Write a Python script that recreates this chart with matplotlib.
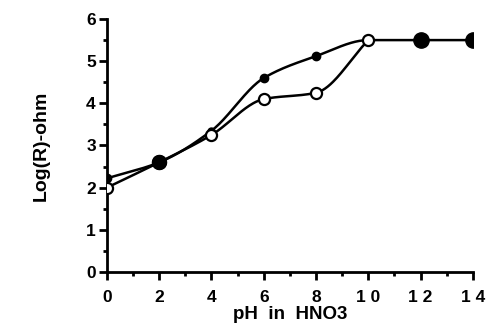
import numpy as np
import matplotlib
matplotlib.use("Agg")
import matplotlib.pyplot as plt
from matplotlib.ticker import MultipleLocator

plt.rcParams['font.family'] = ['Liberation Sans', 'DejaVu Sans']
plt.rcParams['font.weight'] = 'bold'

# pH values and log resistance for the two runs
ph_filled = [0, 2, 4, 6, 8, 10, 12, 14]
logr_filled = [2.22, 2.6, 3.35, 4.6, 5.12, 5.5, 5.5, 5.5]
ph_open = [0, 2, 4, 6, 8, 10]
logr_open = [2.0, 2.6, 3.25, 4.1, 4.25, 5.5]
xtick_labels = ["0", "2", "4", "6", "8", "1 0", "1 2", "1 4"]


def pchip(x, y, n=40):
    """Monotone cubic curve through the points, for a smooth trace."""
    x = np.asarray(x, float)
    y = np.asarray(y, float)
    h = np.diff(x)
    d = np.diff(y) / h
    m = np.zeros_like(y)
    for k in range(1, len(x) - 1):
        if d[k - 1] * d[k] > 0:
            w1 = 2 * h[k] + h[k - 1]
            w2 = h[k] + 2 * h[k - 1]
            m[k] = (w1 + w2) / (w1 / d[k - 1] + w2 / d[k])
    m[0] = d[0]
    m[-1] = d[-1] if d[-1] != 0 else 0
    xs, ys = [], []
    for k in range(len(x) - 1):
        t = np.linspace(0, 1, n, endpoint=False)
        h00 = 2 * t**3 - 3 * t**2 + 1
        h10 = t**3 - 2 * t**2 + t
        h01 = -2 * t**3 + 3 * t**2
        h11 = t**3 - t**2
        xs.append(x[k] + t * h[k])
        ys.append(h00 * y[k] + h10 * h[k] * m[k] + h01 * y[k + 1] + h11 * h[k] * m[k + 1])
    xs.append([x[-1]])
    ys.append([y[-1]])
    return np.concatenate(xs), np.concatenate(ys)


fig = plt.figure(figsize=(4.86, 3.28), dpi=100)
ax = fig.add_axes([0.220, 0.171, 0.753, 0.771])

fx, fy = pchip(ph_filled, logr_filled)
ox, oy = pchip(ph_open, logr_open)
ax.plot(fx, fy, color='black', lw=1.8, zorder=2)
ax.plot(ox, oy, color='black', lw=1.8, zorder=2)

# filled markers: small ones on the rising part, large ones on the plateau
sizes = [6, 10, 5, 6, 6, 0, 11, 11]
for x, y, s in zip(ph_filled, logr_filled, sizes):
    if s:
        ax.plot(x, y, 'o', color='black', ms=s, zorder=3)
ax.plot(ph_open, logr_open, 'o', mfc='white', mec='black', mew=1.6, ms=8, zorder=4)
ax.plot(2, 2.6, 'o', color='black', ms=10, zorder=5)

ax.set_xlim(0, 14)
ax.set_ylim(0, 6)
ax.xaxis.set_major_locator(MultipleLocator(2))
ax.xaxis.set_minor_locator(MultipleLocator(1))
ax.yaxis.set_major_locator(MultipleLocator(1))
ax.yaxis.set_minor_locator(MultipleLocator(0.5))
ax.set_xticks(ph_filled)
ax.set_xticklabels(xtick_labels)
for s in ['top', 'right']:
    ax.spines[s].set_visible(False)
for s in ['left', 'bottom']:
    ax.spines[s].set_linewidth(2)
ax.tick_params(which='major', direction='out', length=6, width=2, labelsize=12.5, pad=2)
ax.tick_params(axis='x', which='major', pad=7)
ax.tick_params(which='minor', direction='out', length=3, width=2)
ax.set_xlabel('pH  in  HNO3', fontsize=13.5, fontweight='bold', labelpad=1)
ax.set_ylabel('Log(R)-ohm', fontsize=14, fontweight='bold', labelpad=26)

fig.savefig('out.png', dpi=100)
